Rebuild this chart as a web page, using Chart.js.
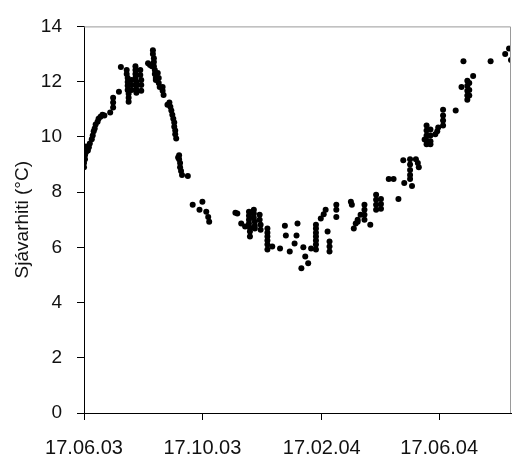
<!DOCTYPE html>
<html>
<head>
<meta charset="utf-8">
<title>Sjávarhiti</title>
<script src="https://cdn.jsdelivr.net/npm/chart.js@4/dist/chart.umd.min.js"></script>
<style>
  body { margin: 0; background: #fff; }
  #wrap { width: 514px; height: 457px; }
</style>
</head>
<body>
<div id="wrap"><canvas id="myChart" width="514" height="457"></canvas></div>
<script>
// days counted from 17.06.03
var days = [
  0, 0, 1, 1, 2, 2, 4, 5, 6, 8, 9, 10, 11, 12, 14, 15, 17, 19, 21,
  27, 30, 30, 30, 36, 38,
  44, 44, 45, 45, 45, 45, 46, 46, 46,
  49, 49, 49,
  53, 53, 53, 53, 54, 54, 54, 54,
  58, 58, 59, 59, 59,
  66, 68, 70,
  71, 71, 72, 72, 72, 73, 73, 74, 74,
  76, 77, 77, 78,
  81, 81, 82, 86,
  88, 89, 90, 91, 92, 93, 93, 94, 94, 95,
  97, 98, 98, 99, 99, 100, 101, 107,
  112, 119, 122, 126, 128, 129,
  156, 158, 162, 166,
  170, 170, 170, 170, 171, 171, 171,
  175, 175, 175, 176, 176, 176,
  181, 181, 182, 182,
  189, 189, 189, 189, 189, 189,
  194, 202, 207, 208, 212, 217, 219, 220, 224, 226, 228, 231, 234,
  239, 239, 239, 239, 239, 239, 239,
  244, 247, 249, 251, 253, 253, 253,
  260, 260, 260, 275, 276,
  278, 280, 282, 282, 285,
  289, 289, 289, 289, 295,
  301, 301, 301, 301, 306, 306, 306,
  314, 319, 324, 329, 330,
  336, 336, 336, 336, 336, 338,
  342, 344, 345, 351,
  353, 353, 353, 353, 353,
  357, 357, 357, 357,
  362, 364, 365,
  370, 370, 370, 370,
  383, 389, 391,
  395, 395, 395, 395, 395, 397, 397, 397,
  401, 419, 434, 438, 440
];

// sea temperature, °C
var temps = [
  8.90, 9.05, 9.19, 9.33, 9.44, 9.65, 9.51, 9.62, 9.76, 9.91, 10.05, 10.2, 10.3, 10.45, 10.55, 10.66, 10.73, 10.8, 10.77,
  10.88, 11.06, 11.24, 11.42, 11.63, 12.53,
  12.42, 12.28, 12.13, 11.99, 11.85, 11.70, 11.56, 11.42, 11.27,
  12.06, 11.88, 11.7,
  12.56, 12.42, 12.28, 12.13, 11.99, 11.85, 11.70, 11.6,
  12.42, 12.24, 12.06, 11.88, 11.67,
  12.67, 12.6, 12.56,
  13.14, 13.0, 12.85, 12.71, 12.56, 12.42, 12.28, 12.13, 12.06,
  12.31, 12.13, 11.95, 11.81,
  11.81, 11.67, 11.52, 11.16,
  11.24, 11.09, 10.95, 10.8, 10.66, 10.52, 10.37, 10.23, 10.09, 9.94,
  9.25, 9.33, 9.19, 9.05, 8.9, 8.76, 8.62, 8.58,
  7.54, 7.36, 7.65, 7.29, 7.1, 6.93,
  7.25, 7.22, 6.86, 6.75,
  7.29, 7.14, 7.0, 6.86, 6.71, 6.57, 6.39,
  7.36, 7.22, 7.07, 6.93, 6.78, 6.68,
  7.18, 7.0, 6.82, 6.64,
  6.68, 6.53, 6.39, 6.25, 6.1, 5.92,
  6.03, 5.96, 6.78, 6.43, 5.85, 6.14, 6.43, 6.86, 5.24, 6.0, 5.67, 5.42, 5.96,
  6.82, 6.68, 6.53, 6.39, 6.25, 6.1, 5.92,
  7.04, 7.2, 7.36, 6.57, 6.21, 6.03, 5.85,
  7.54, 7.36, 7.1, 7.65, 7.54,
  6.68, 6.86, 6.93, 7.0, 7.18,
  7.54, 7.36, 7.18, 7.0, 6.82,
  7.9, 7.72, 7.54, 7.36, 7.75, 7.57, 7.4,
  8.47, 8.47, 7.75, 9.15, 8.33,
  9.19, 9.0, 8.8, 8.62, 8.47, 8.22,
  9.19, 9.05, 8.9, 9.9,
  10.41, 10.23, 10.05, 9.87, 9.73,
  10.27, 10.05, 9.84, 9.73,
  10.09, 10.2, 10.34,
  10.98, 10.77, 10.59, 10.41,
  10.95, 11.81, 12.74,
  12.03, 11.85, 11.67, 11.5, 11.34, 11.95, 11.7, 11.5,
  12.2, 12.74, 13.0, 13.2, 12.78
];

var tickDays = [0, 122, 245, 366];
var tickLabels = ["17.06.03", "17.10.03", "17.02.04", "17.06.04"];

var points = days.map(function (d, i) {
  return { x: d, y: temps[i] };
});

// gray frame on top and right side of the plot area
const frameLines = {
  id: "frameLines",
  afterDraw(chart) {
    const a = chart.chartArea;
    const ctx = chart.ctx;
    ctx.save();
    ctx.strokeStyle = "#9a9a9a";
    ctx.lineWidth = 1;
    ctx.beginPath();
    ctx.moveTo(a.left, a.top + 0.5);
    ctx.lineTo(a.right - 0.5, a.top + 0.5);
    ctx.lineTo(a.right - 0.5, a.bottom);
    ctx.stroke();
    ctx.restore();
  },
};

const family = "'Liberation Sans', Arial, sans-serif";

const config = {
  type: "scatter",
  data: {
    datasets: [
      {
        data: points,
        backgroundColor: "#000",
        borderColor: "#000",
        pointRadius: 3,
        pointHoverRadius: 3,
        borderWidth: 0,
      },
    ],
  },
  options: {
    responsive: false,
    animation: false,
    layout: { padding: { top: 23, right: 1, left: 0, bottom: 0 } },
    plugins: {
      legend: { display: false },
      tooltip: { enabled: false },
    },
    scales: {
      x: {
        type: "linear",
        min: 0,
        max: 440,
        afterBuildTicks: (scale) => {
          scale.ticks = tickDays.map((v) => ({ value: v }));
        },
        afterFit: (scale) => {
          scale.height = 44;
        },
        ticks: {
          autoSkip: false,
          maxRotation: 0,
          padding: 16,
          color: "#111",
          font: { family: family, size: 20 },
          callback: (v) => tickLabels[tickDays.indexOf(v)],
        },
        grid: {
          drawOnChartArea: false,
          drawTicks: true,
          tickLength: 7,
          color: "#000",
        },
        border: { color: "#000", width: 1 },
      },
      y: {
        min: 0,
        max: 14,
        afterFit: (scale) => {
          scale.width = 84;
        },
        ticks: {
          stepSize: 2,
          padding: 15,
          color: "#111",
          font: { family: family, size: 19 },
        },
        grid: {
          drawOnChartArea: false,
          drawTicks: true,
          tickLength: 7,
          color: "#000",
        },
        border: { color: "#000", width: 1 },
        title: {
          display: true,
          text: "Sjávarhiti (°C)",
          color: "#111",
          font: { family: family, size: 19 },
          padding: { top: 11, bottom: 0 },
        },
      },
    },
  },
  plugins: [frameLines],
};

const myChart = new Chart(document.getElementById("myChart"), config);
</script>
</body>
</html>
